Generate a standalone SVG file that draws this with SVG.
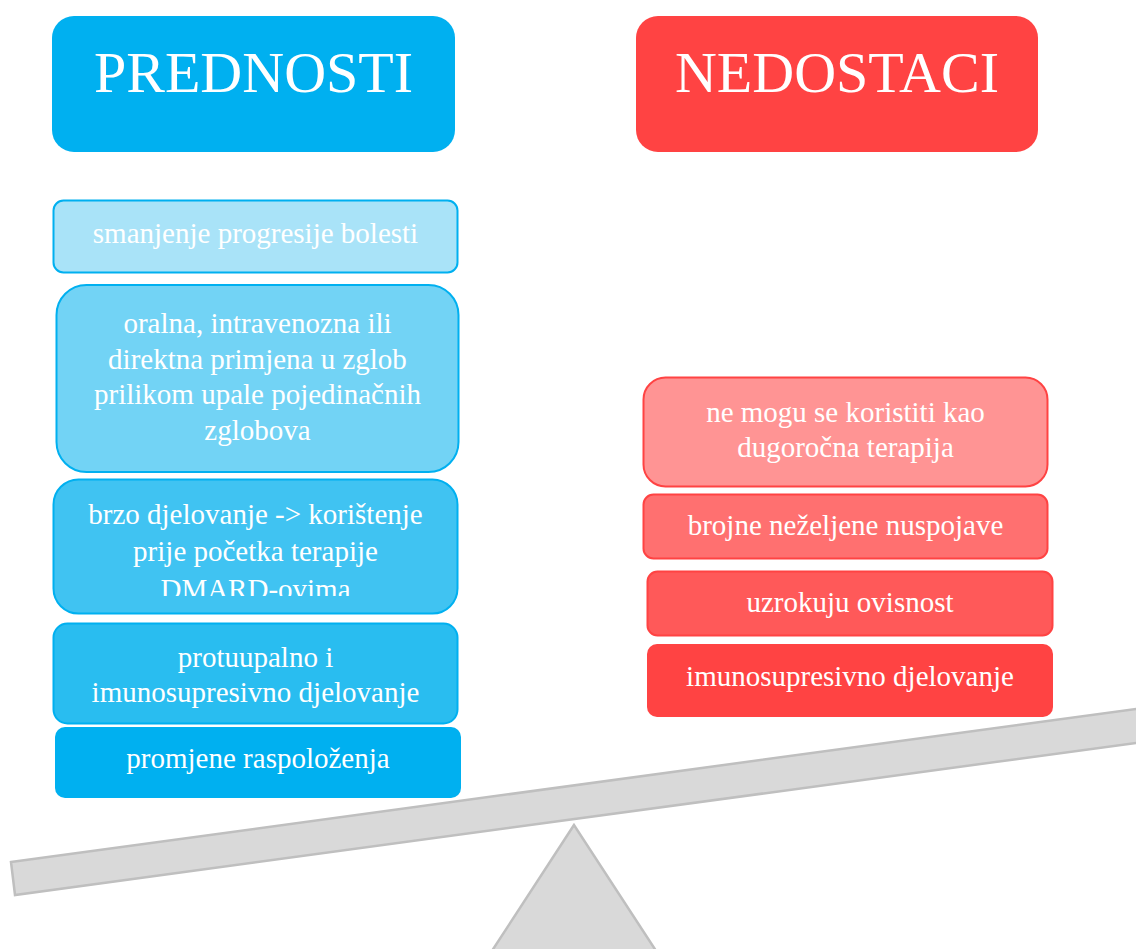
<svg xmlns="http://www.w3.org/2000/svg" width="1136" height="949" viewBox="0 0 1136 949">
<defs>
<style>
.t{font-family:"Liberation Serif","Times New Roman",serif;fill:#ffffff;text-anchor:middle}
.h{font-size:58px}
.i{font-size:29px}
.scale{fill:#d9d9d9;stroke:#bfbfbf;stroke-width:2.5}
</style>
<clipPath id="clip3"><rect x="53" y="479" width="405" height="117"/></clipPath>
</defs>
<rect width="1136" height="949" fill="#ffffff"/>
<g id="scale">
<polygon class="scale" points="574,825 486,960 662,960"/>
<polygon class="scale" points="11,862 1150,707 1150,741 15,895"/>
</g>
<g id="connectors"></g>
<g id="prednosti">
<rect x="52" y="16" width="403" height="136" rx="22" fill="#00b0f0"/>
<text class="t h" x="253.5" y="92">PREDNOSTI</text>
</g>
<g id="nedostaci">
<rect x="636" y="16" width="402" height="136" rx="22" fill="#ff4343"/>
<text class="t h" x="837" y="92">NEDOSTACI</text>
</g>
<g id="p1">
<rect x="53.5" y="200.5" width="404" height="72" rx="10" fill="#a9e3f8" stroke="#00b0f0" stroke-width="2"/>
<text class="t i" x="255.5" y="243">smanjenje progresije bolesti</text>
</g>
<g id="p2">
<rect x="56.5" y="285" width="402" height="187" rx="30" fill="#72d3f5" stroke="#00b0f0" stroke-width="2"/>
<text class="t i" x="257.5" y="333">oralna, intravenozna ili</text>
<text class="t i" x="257.5" y="368.5">direktna primjena u zglob</text>
<text class="t i" x="257.5" y="404">prilikom upale pojedinačnih</text>
<text class="t i" x="257.5" y="440">zglobova</text>
</g>
<g id="p3">
<rect x="53.5" y="479.5" width="404" height="134" rx="25" fill="#40c3f2" stroke="#00b0f0" stroke-width="2"/>
<g clip-path="url(#clip3)">
<text class="t i" x="255.5" y="524">brzo djelovanje -&gt; korištenje</text>
<text class="t i" x="255.5" y="561">prije početka terapije</text>
<text class="t i" x="255.5" y="599">DMARD-ovima</text>
</g>
</g>
<g id="p4">
<rect x="53.5" y="623.5" width="404" height="100" rx="14" fill="#29bdf0" stroke="#00b0f0" stroke-width="2"/>
<text class="t i" x="255.5" y="667">protuupalno i</text>
<text class="t i" x="255.5" y="702">imunosupresivno djelovanje</text>
</g>
<g id="p5">
<rect x="55" y="727" width="406" height="71" rx="10" fill="#00b0f0"/>
<text class="t i" x="258" y="768">promjene raspoloženja</text>
</g>
<g id="n1">
<rect x="643.5" y="377.5" width="404" height="109" rx="22" fill="#ff9494" stroke="#ff4343" stroke-width="2"/>
<text class="t i" x="845.5" y="422">ne mogu se koristiti kao</text>
<text class="t i" x="845.5" y="457">dugoročna terapija</text>
</g>
<g id="n2">
<rect x="643.5" y="494.5" width="404" height="64" rx="10" fill="#ff7070" stroke="#ff4343" stroke-width="2"/>
<text class="t i" x="845.5" y="535">brojne neželjene nuspojave</text>
</g>
<g id="n3">
<rect x="647.5" y="571.5" width="405" height="64" rx="10" fill="#ff5959" stroke="#ff4343" stroke-width="2"/>
<text class="t i" x="850" y="612">uzrokuju ovisnost</text>
</g>
<g id="n4">
<rect x="647" y="644" width="406" height="73" rx="10" fill="#ff4343"/>
<text class="t i" x="850" y="686">imunosupresivno djelovanje</text>
</g>
</svg>
